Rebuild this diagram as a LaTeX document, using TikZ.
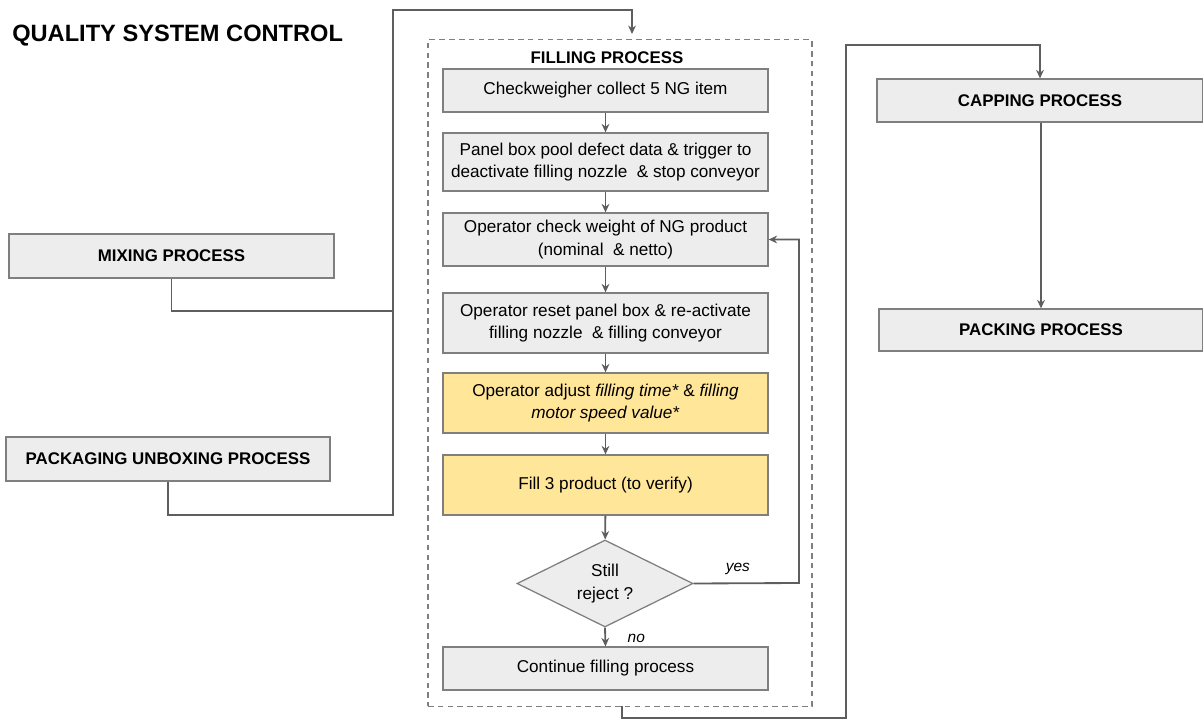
\documentclass[tikz,border=0pt]{standalone}
\usepackage{fontspec}
\setmainfont{Liberation Sans}
\usepackage{tikz}
\usetikzlibrary{positioning}
\usetikzlibrary{shapes.geometric,arrows.meta,calc}

\definecolor{boxgray}{HTML}{EDEDED}
\definecolor{edgegray}{HTML}{7F7F7F}
\definecolor{linegray}{HTML}{5E5E5E}
\definecolor{adjustyellow}{HTML}{FFE699}

\begin{document}
\begin{tikzpicture}[x=0.025cm,y=-0.025cm,
    procbox/.style={draw=edgegray, fill=boxgray, line width=0.9pt, minimum width=8.125cm,
        align=center, inner sep=2pt, font=\fontsize{12.2}{16}\selectfont},
    headbox/.style={procbox, font=\fontsize{12}{14}\selectfont\bfseries},
    yellowbox/.style={procbox, fill=adjustyellow},
    line/.style={draw=linegray, line width=1.3pt, -{Stealth[length=6pt,width=5.5pt]}},
    plainline/.style={draw=linegray, line width=1.3pt},
    ]
    \useasboundingbox (0,0) rectangle (1203,720); % Page size

    \node[anchor=west, inner sep=0pt, font=\fontsize{16.8}{19}\selectfont\bfseries] (title) at (12,36) {QUALITY SYSTEM CONTROL};

    % Input processes on the left
    \node[headbox, minimum height=1.1cm] (mixing) at (171.5,256) {MIXING PROCESS};
    \node[headbox, minimum height=1.1cm, minimum width=8.1cm] (unboxing) at (168,459) {PACKAGING UNBOXING PROCESS};

    % Dashed frame round the filling process
    \node[draw=edgegray, line width=0.8pt, dash pattern=on 4pt off 3pt, minimum width=9.6cm, minimum height=16.65cm] (frame) at (620,373) {};
    \node[font=\fontsize{12}{14}\selectfont\bfseries] (fillhead) at (607,58) {FILLING PROCESS};

    \node[procbox, minimum height=1.075cm] (collect) at (605.5,90.5) {Checkweigher collect 5 NG item};
    \node[procbox, minimum height=1.45cm] (pool) at (605.5,162) {Panel box pool defect data \& trigger to\\deactivate filling nozzle \ \& stop conveyor};
    \node[procbox, minimum height=1.325cm] (weigh) at (605.5,239.5) {Operator check weight of NG product\\(nominal \ \& netto)};
    \node[procbox, minimum height=1.5cm] (reset) at (605.5,323) {Operator reset panel box \& re-activate\\filling nozzle \ \& filling conveyor};
    \node[yellowbox, minimum height=1.5cm] (adjust) at (605.5,403) {Operator adjust \textit{filling time*} \& \textit{filling}\\\textit{motor speed value*}};
    \node[yellowbox, minimum height=1.5cm] (verify) at (605.5,485) {Fill 3 product (to verify)};
    \node[diamond, draw=edgegray, fill=boxgray, line width=0.9pt, aspect=2, inner sep=0pt,
        minimum width=4.4cm, minimum height=2.175cm, align=center, font=\fontsize{12.2}{16}\selectfont] (still) at (605,583.5) {Still\\reject ?};
    \node[procbox, minimum height=1.075cm] (continue) at (605.5,668.5) {Continue filling process};

    % Output processes on the right
    \node[headbox, minimum height=1.075cm, minimum width=8.15cm] (capping) at (1040,100.5) {CAPPING PROCESS};
    \node[headbox, minimum height=1.05cm, minimum width=8.1cm] (packing) at (1041,330) {PACKING PROCESS};

    \coordinate (busMix) at (393,311); % Where mixing joins
    \coordinate (busBot) at (393,515);
    \coordinate (busTop) at (393,10);
    \coordinate (inFill) at (632,34); % Arrow into the frame
    \coordinate (outFill) at (622,706); % Leaving the frame
    \coordinate (busRBot) at (846,718);
    \coordinate (busRTop) at (846,45);
    \coordinate (loopR) at (799,583);

    \draw[plainline] (mixing.south) |- (busMix);
    \draw[line] (unboxing.south) |- (busBot) -- (busTop) -| (inFill);

    \foreach \a/\b in {collect/pool, pool/weigh, weigh/reset, reset/adjust, adjust/verify, verify/still}
        \draw[line] (\a) -- (\b);

    \draw[line] (still.south) -- node[right, xshift=12pt, yshift=-1pt, font=\fontsize{11}{13}\selectfont\itshape] {no} (continue.north);
    \draw[line] (still.east) -- node[above, pos=0.42, yshift=2pt, font=\fontsize{11}{13}\selectfont\itshape] {yes} (loopR) |- (weigh.east);

    \draw[line] (outFill) |- (busRBot) -- (busRTop) -| (capping.north);
    \draw[line] (capping.south -| packing.north) -- (packing.north);
\end{tikzpicture}
\end{document}
